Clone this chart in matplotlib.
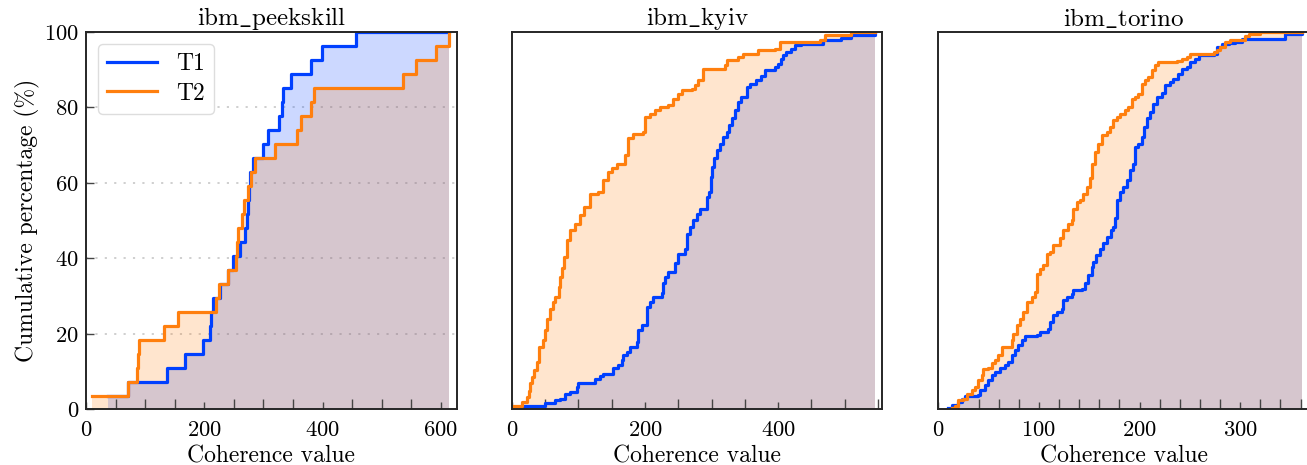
import matplotlib
matplotlib.use("Agg")
import matplotlib.pyplot as plt
from matplotlib.ticker import AutoMinorLocator, MultipleLocator

plt.rcParams['font.family'] = ['cmr10', 'DejaVu Serif']
plt.rcParams['mathtext.fontset'] = 'cm'
plt.rcParams['axes.unicode_minus'] = False
plt.rcParams['axes.formatter.use_mathtext'] = True

# devices (panel titles)
devices = ['ibm_peekskill', 'ibm_kyiv', 'ibm_torino']
major_steps = [200, 200, 100]

# ibm_peekskill: step corners (coherence value, cumulative %)
peek_t1_x = [37, 71, 137, 167, 197, 210, 212, 214, 226, 240, 248, 261, 268, 272,
             274, 276, 277, 283, 300, 308, 326, 331, 333, 346, 381, 399, 457]
peek_t2_x = [10, 71, 86, 88, 90, 131, 155, 219, 224, 240, 254, 255, 257, 263,
             267, 273, 279, 285, 320, 357, 363, 381, 385, 535, 558, 592, 614]
peek_pct = [3.7, 7.4, 11.1, 14.8, 18.5, 22.2, 25.9, 29.6, 33.3, 37.0, 40.7, 44.4,
            48.1, 51.9, 55.6, 59.3, 63.0, 66.7, 70.4, 74.1, 77.8, 81.5, 85.2,
            88.9, 92.6, 96.3, 100.0]

# ibm_kyiv
kyiv_t1_x = [17.5, 50, 65, 72.5, 80, 87.5, 97.5, 100, 125, 132.5, 137.5, 152.5, 160,
             165, 167.5, 172.5, 177.5, 187.5, 190, 195, 202.5, 207.5, 212.5, 225,
             227.5, 230, 235, 245, 250, 260, 262.5, 267.5, 272.5, 277.5, 282.5,
             292.5, 296.5, 298.5, 301, 303.5, 307.5, 312.5, 317.5, 322.5, 326.5,
             330, 335, 340, 345, 353.5, 357.5, 367.5, 375, 380, 395, 400, 405,
             407.5, 412.5, 420, 425, 435, 467.5, 495, 510, 546]
kyiv_t1_y = [0.8, 1.6, 2.5, 2.9, 4.2, 4.7, 6.0, 7.1, 8.2, 8.8, 9.5, 10.9, 11.7,
             13.1, 14.4, 15.3, 16.6, 17.9, 21.0, 22.3, 27.2, 28.5, 29.8, 30.9,
             33.4, 35.1, 36.5, 38.7, 41.3, 42.6, 46.6, 48.4, 50.1, 51.9, 53.2,
             56.3, 57.6, 61.6, 64.3, 66.5, 68.7, 70.4, 72.2, 73.5, 75.3, 77.1,
             79.3, 81.5, 82.8, 85.4, 86.3, 87.4, 88.3, 89.9, 90.7, 91.6, 92.9,
             93.8, 94.7, 95.6, 96.5, 96.9, 98.0, 98.4, 99.2, 100.0]
kyiv_t2_x = [2.5, 15, 22.5, 25, 27.5, 30, 33.5, 37, 41, 46, 50, 53, 56.5, 62, 65,
             70, 72.5, 75, 77.5, 82.5, 87.5, 95, 102.5, 108.5, 117.5, 130, 137.5,
             145, 150, 157.5, 170, 175, 182.5, 197.5, 200, 207.5, 215, 222.5, 235,
             242.5, 250, 255, 270, 275, 280, 286.5, 320, 322.5, 340, 347.5, 370,
             395, 402.5, 462.5, 470, 510]
kyiv_t2_y = [0.8, 2.0, 3.4, 5.0, 6.9, 8.5, 10.4, 12.5, 16.6, 18.5, 21.0, 24.0,
             26.7, 28.5, 29.8, 32.5, 35.0, 37.5, 40.4, 44.8, 47.5, 49.2, 51.5,
             53.7, 57.2, 57.6, 60.7, 62.9, 64.0, 65.1, 67.3, 71.8, 73.1, 73.5,
             77.5, 78.4, 79.3, 80.1, 80.6, 82.3, 83.5, 84.6, 85.0, 86.0, 87.2,
             90.3, 91.2, 92.7, 93.4, 94.3, 95.1, 95.6, 97.4, 97.8, 99.2, 100.0]

# ibm_torino
tor_t1_x = [9.9, 13.3, 19.9, 23.2, 26.5, 39.8, 41.4, 46.4, 49.7, 53.0, 56.4, 61.3,
            66.3, 69.6, 72.9, 76.2, 79.6, 82.9, 86.2, 97.8, 101.1, 109.4, 111.0,
            114.4, 117.7, 122.6, 124.3, 127.6, 132.6, 134.3, 142.5, 145.9, 149.2,
            152.5, 154.1, 156.8, 160.8, 164.1, 167.4, 171.4, 174.0, 175.7, 177.3,
            180.7, 184.0, 187.3, 190.6, 193.3, 195.6, 198.9, 202.2, 204.9, 207.2,
            210.5, 213.8, 217.1, 222.1, 225.4, 230.4, 233.7, 238.7, 242.0, 247.0,
            250.3, 255.2, 258.6, 273.5, 276.8, 281.8, 288.4, 295.0, 301.7, 344.7,
            361.0]
tor_t1_y = [0.5, 1.1, 2.0, 2.9, 3.5, 3.8, 5.1, 6.4, 7.8, 9.1, 10.0, 10.9, 11.7,
            12.6, 14.4, 15.7, 17.0, 18.4, 19.4, 19.7, 20.6, 21.4, 23.2, 25.0, 25.9,
            26.7, 29.0, 29.8, 30.7, 31.6, 31.8, 33.4, 35.6, 37.8, 39.1, 40.9, 42.6,
            44.0, 45.7, 47.5, 48.4, 50.6, 55.4, 57.6, 59.0, 60.7, 63.4, 65.1, 69.6,
            70.4, 72.2, 74.8, 77.1, 78.8, 81.0, 82.8, 83.8, 85.9, 86.8, 87.6, 88.8,
            90.3, 90.7, 92.1, 92.9, 93.8, 94.3, 96.0, 96.9, 97.1, 97.4, 98.2, 99.4,
            100.0]
tor_t2_x = [13.3, 16.6, 19.9, 24.9, 28.2, 33.1, 36.5, 39.8, 43.1, 44.8, 49.7, 53.0,
            56.4, 59.7, 63.0, 72.9, 74.6, 77.9, 81.2, 84.5, 87.8, 92.8, 96.1, 97.8,
            101.1, 104.4, 107.7, 111.0, 114.4, 121.0, 124.3, 129.3, 132.6, 134.3,
            137.6, 140.9, 144.2, 147.5, 150.8, 152.5, 155.8, 159.1, 162.4, 167.4,
            170.7, 174.0, 177.3, 180.7, 185.6, 188.9, 192.3, 195.6, 198.9, 202.2,
            205.5, 208.8, 212.2, 215.5, 218.8, 237.0, 242.0, 247.0, 250.3, 273.5,
            276.8, 280.1, 285.1, 290.1, 305.0, 308.3, 320.0]
tor_t2_y = [0.5, 0.9, 2.5, 2.9, 4.2, 5.1, 6.0, 7.8, 9.1, 10.6, 10.9, 12.2, 13.1,
            14.4, 16.6, 18.5, 20.1, 22.3, 24.1, 25.9, 28.5, 29.8, 31.2, 36.0, 37.3,
            38.2, 41.3, 41.7, 43.5, 45.3, 47.5, 49.2, 50.1, 53.2, 55.0, 55.4, 57.2,
            59.0, 61.2, 65.1, 68.2, 70.4, 72.6, 73.5, 74.8, 76.6, 77.5, 78.4, 79.3,
            80.1, 82.3, 82.8, 83.7, 86.3, 87.2, 88.1, 89.9, 91.2, 92.1, 92.3, 92.9,
            93.4, 94.1, 94.7, 95.1, 96.0, 97.4, 97.8, 98.9, 99.6, 100.0]

panels = [
    (peek_t1_x, peek_pct, peek_t2_x, peek_pct),
    (kyiv_t1_x, kyiv_t1_y, kyiv_t2_x, kyiv_t2_y),
    (tor_t1_x, tor_t1_y, tor_t2_x, tor_t2_y),
]

c_t1 = '#0040ff'
c_t2 = '#ff7f0e'

fig = plt.figure(figsize=(13.07, 4.65), dpi=100)
lefts = [0.0658, 0.3917, 0.7179]
axes = [fig.add_axes([l, 0.1194, 0.2835, 0.8118]) for l in lefts]

for i, ax in enumerate(axes):
    x1, y1, x2, y2 = panels[i]
    xmax = max(x1[-1], x2[-1])
    # extend both curves to the common right end
    x1e = list(x1) + [xmax]
    y1e = list(y1) + [y1[-1]]
    x2e = list(x2) + [xmax]
    y2e = list(y2) + [y2[-1]]

    ax.fill_between(x1e, y1e, step='post', color=c_t1, alpha=0.2, lw=0)
    ax.fill_between(x2e, y2e, step='post', color=c_t2, alpha=0.2, lw=0)
    ax.step(x1e, y1e, where='post', color=c_t1, lw=2.3, label='T1')
    ax.step(x2e, y2e, where='post', color=c_t2, lw=2.3, label='T2')

    ax.set_xlim(0, xmax * 1.02)
    ax.set_ylim(0, 100)
    name = devices[i].replace('_', r'\_')
    ax.set_title(r'$\mathrm{' + name + '}$', fontsize=18, pad=4)
    ax.set_xlabel('Coherence value', fontsize=17, labelpad=3.5)

    ax.xaxis.set_major_locator(MultipleLocator(major_steps[i]))
    ax.xaxis.set_minor_locator(AutoMinorLocator())
    ax.tick_params(axis='x', which='major', direction='in', length=5, width=1,
                   color='#444444', labelsize=16.3, pad=8, top=False)
    ax.tick_params(axis='x', which='minor', direction='in', length=7, width=1,
                   color='#444444', top=False)
    for s in ax.spines.values():
        s.set_linewidth(1.4)
        s.set_color('#262626')

    if i == 0:
        ax.set_yticks([0, 20, 40, 60, 80, 100])
        ax.tick_params(axis='y', which='major', direction='in', length=6, width=1,
                       color='#444444', labelsize=16.3, pad=5, right=False)
        ax.set_ylabel('Cumulative percentage (%)', fontsize=17, labelpad=3)
        for g in [20, 40, 60, 80]:
            ax.axhline(g, color='#cccccc', lw=1.3, ls=(0, (1.2, 4)), zorder=0.5)
        ax.legend(loc='upper left', fontsize=17, handlelength=2.1,
                  borderpad=0.4, labelspacing=0.3, handletextpad=0.8,
                  borderaxespad=0.5, edgecolor='#dddddd', framealpha=1.0)
    else:
        ax.set_yticks([])

fig.savefig('out.png', dpi=100)
